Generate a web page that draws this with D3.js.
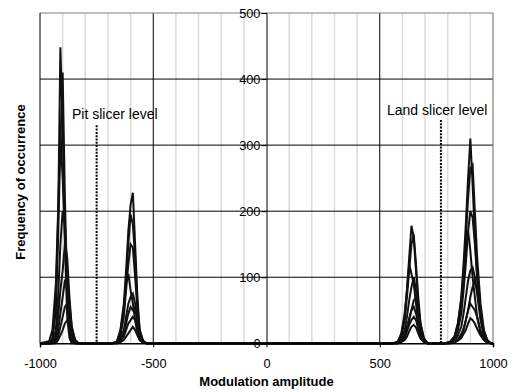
<!DOCTYPE html>
<html>
<head>
<meta charset="utf-8">
<script src="https://cdn.jsdelivr.net/npm/d3@7"></script>
<style>
  body { margin: 0; background: #fff; }
  text { font-family: "Liberation Sans", Arial, sans-serif; }
</style>
</head>
<body>
<svg id="chart" width="514" height="392"></svg>
<script>
// sample positions of the histograms (modulation amplitude)
let xs = [-1000, -960, -945, -930, -920, -910, -900, -890, -880, -870, -860, -845, -830, -800,
    -680, -660, -645, -630, -620, -610, -600, -590, -580, -570, -560, -545, -530, -510,
    560, 580, 595, 610, 620, 630, 640, 650, 660, 670, 680, 695, 710, 730,
    790, 810, 830, 845, 860, 870, 880, 890, 900, 910, 920, 930, 945, 960, 975, 990, 1000];

// frequency of occurrence, one array per measured track
let series1 = [0, 0, 8, 70, 190, 448, 330, 150, 40, 8, 0, 0, 0, 0,
    0, 3, 20, 60, 110, 170, 210, 228, 150, 70, 20, 3, 0, 0,
    0, 2, 12, 40, 80, 130, 178, 160, 110, 60, 25, 5, 0, 0,
    0, 2, 10, 30, 70, 120, 180, 250, 310, 240, 160, 100, 40, 12, 3, 0, 0];
let series2 = [0, 0, 5, 50, 160, 300, 410, 220, 80, 20, 2, 0, 0, 0,
    0, 2, 15, 50, 95, 150, 195, 180, 130, 60, 20, 4, 0, 0,
    0, 2, 10, 35, 70, 110, 150, 165, 120, 70, 30, 6, 0, 0,
    0, 2, 8, 25, 60, 100, 160, 220, 265, 270, 200, 130, 60, 20, 5, 0, 0];
let series3 = [0, 3, 20, 90, 200, 320, 250, 160, 70, 20, 5, 0, 0, 0,
    0, 2, 12, 40, 80, 120, 150, 145, 100, 50, 15, 3, 0, 0,
    0, 3, 15, 45, 80, 120, 105, 90, 60, 30, 10, 2, 0, 0,
    0, 1, 6, 20, 45, 80, 120, 170, 200, 190, 150, 100, 50, 15, 4, 0, 0];
let series4 = [0, 0, 2, 20, 70, 150, 200, 180, 110, 40, 10, 0, 0, 0,
    0, 3, 18, 50, 90, 105, 80, 60, 35, 15, 5, 1, 0, 0,
    0, 1, 6, 20, 40, 65, 85, 100, 80, 50, 20, 4, 0, 0,
    0, 2, 10, 30, 65, 110, 150, 170, 140, 100, 70, 40, 15, 5, 1, 0, 0];
let series5 = [0, 0, 0, 10, 40, 80, 110, 150, 130, 70, 25, 3, 0, 0,
    0, 1, 8, 20, 40, 60, 70, 75, 60, 35, 12, 2, 0, 0,
    0, 0, 3, 10, 20, 35, 50, 65, 70, 55, 30, 8, 1, 0,
    0, 1, 4, 12, 25, 45, 70, 95, 110, 115, 100, 75, 35, 12, 3, 0, 0];
let series6 = [0, 0, 0, 5, 20, 45, 70, 95, 100, 60, 25, 5, 0, 0,
    0, 0, 5, 15, 30, 45, 55, 50, 55, 30, 10, 2, 0, 0,
    0, 0, 4, 12, 25, 38, 50, 55, 45, 30, 14, 3, 0, 0,
    0, 0, 2, 5, 12, 20, 35, 50, 70, 85, 95, 80, 45, 15, 4, 0, 0];
let series7 = [0, 0, 0, 2, 10, 25, 40, 55, 60, 45, 20, 5, 0, 0,
    0, 0, 3, 10, 20, 30, 35, 40, 35, 25, 8, 1, 0, 0,
    0, 0, 3, 8, 18, 28, 35, 40, 35, 22, 10, 2, 0, 0,
    0, 0, 2, 6, 14, 22, 35, 50, 60, 55, 50, 40, 20, 7, 2, 0, 0];
let series8 = [0, 0, 0, 0, 5, 12, 20, 30, 35, 25, 12, 3, 0, 0,
    0, 0, 2, 5, 10, 15, 20, 25, 20, 12, 5, 1, 0, 0,
    0, 0, 2, 5, 10, 18, 25, 28, 24, 15, 7, 2, 0, 0,
    0, 0, 1, 4, 8, 14, 20, 30, 38, 35, 30, 22, 12, 5, 1, 0, 0];

let xTicks = [-1000, -500, 0, 500, 1000];
let yTicks = [0, 100, 200, 300, 400, 500];
let xMinor = [-900, -800, -700, -600, -400, -300, -200, -100, 100, 200, 300, 400, 600, 700, 800, 900];

// slicer levels: position, top of the marker line, label
let slicers = [
    {x: -750, top: 330, label: "Pit slicer level"},
    {x: 770, top: 338, label: "Land slicer level"}
];

let svg = d3.select("#chart");
let plotLeft = 40, plotRight = 493, plotTop = 13, plotBottom = 343.3;

let x = d3.scaleLinear().domain([-1000, 1000]).range([plotLeft, plotRight]);
let y = d3.scaleLinear().domain([0, 500]).range([plotBottom, plotTop]);

// minor vertical gridlines
svg.append("g").selectAll("line")
    .data(xMinor)
    .join("line")
    .attr("x1", d => x(d)).attr("x2", d => x(d))
    .attr("y1", plotTop).attr("y2", plotBottom)
    .attr("stroke", "#dcdcdc")
    .attr("stroke-width", 1.5);

// major gridlines
svg.append("g").selectAll("line")
    .data([-500, 500])
    .join("line")
    .attr("x1", d => x(d)).attr("x2", d => x(d))
    .attr("y1", plotTop).attr("y2", plotBottom)
    .attr("stroke", "#000")
    .attr("stroke-width", 1);

svg.append("g").selectAll("line")
    .data([100, 200, 300, 400])
    .join("line")
    .attr("x1", plotLeft).attr("x2", plotRight)
    .attr("y1", d => y(d)).attr("y2", d => y(d))
    .attr("stroke", "#000")
    .attr("stroke-width", 1);

// plot border
svg.append("line")
    .attr("x1", plotLeft).attr("x2", plotRight)
    .attr("y1", y(500)).attr("y2", y(500))
    .attr("stroke", "#808080").attr("stroke-width", 1.2);
svg.append("line")
    .attr("x1", plotRight).attr("x2", plotRight)
    .attr("y1", plotTop).attr("y2", plotBottom)
    .attr("stroke", "#808080").attr("stroke-width", 1.2);
svg.append("line")
    .attr("x1", plotLeft).attr("x2", plotLeft)
    .attr("y1", plotTop).attr("y2", plotBottom)
    .attr("stroke", "#000").attr("stroke-width", 1);

// histogram lines
let allSeries = [series1, series2, series3, series4, series5, series6, series7, series8];
let line = d3.line()
    .x((d, i) => x(xs[i]))
    .y(d => y(d));

svg.append("g").selectAll("path")
    .data(allSeries)
    .join("path")
    .attr("d", line)
    .attr("fill", "none")
    .attr("stroke", "#111")
    .attr("stroke-width", 2)
    .attr("stroke-linejoin", "miter");

// slicer markers
svg.append("g").selectAll("line")
    .data(slicers)
    .join("line")
    .attr("x1", d => x(d.x)).attr("x2", d => x(d.x))
    .attr("y1", d => y(d.top)).attr("y2", y(0))
    .attr("stroke", "#000")
    .attr("stroke-width", 2)
    .attr("stroke-dasharray", "2,1.3");

svg.append("text")
    .attr("x", 72).attr("y", 119)
    .attr("font-size", 14)
    .text(slicers[0].label);
svg.append("text")
    .attr("x", 387).attr("y", 115)
    .attr("font-size", 14)
    .text(slicers[1].label);

// y axis sits at x = 0
let yAxis = svg.append("g")
    .attr("transform", `translate(${x(0)},0)`)
    .call(d3.axisLeft(y).tickValues(yTicks).tickSize(5).tickPadding(1).tickFormat(d => String(d)));
yAxis.select(".domain").attr("stroke", "#000");
yAxis.selectAll("text")
    .attr("font-size", 12.8)
    .attr("font-family", "Liberation Sans, Arial, sans-serif")
    .attr("fill", "#000");

// x axis sits at y = 0
let xAxis = svg.append("g")
    .attr("transform", `translate(0,${y(0)})`)
    .call(d3.axisBottom(x).tickValues(xTicks).tickSize(4).tickPadding(12).tickFormat(d => String(d)));
xAxis.select(".domain").attr("stroke", "#000").attr("stroke-width", 1.5);
xAxis.selectAll("text")
    .attr("font-size", 12.8)
    .attr("font-family", "Liberation Sans, Arial, sans-serif")
    .attr("fill", "#000");

// axis titles
svg.append("text")
    .attr("x", x(0)).attr("y", 386)
    .attr("text-anchor", "middle")
    .attr("font-size", 13)
    .attr("font-weight", "bold")
    .text("Modulation amplitude");

svg.append("text")
    .attr("transform", `translate(24.5,182) rotate(-90)`)
    .attr("text-anchor", "middle")
    .attr("font-size", 13)
    .attr("font-weight", "bold")
    .text("Frequency of occurrence");
</script>
</body>
</html>
